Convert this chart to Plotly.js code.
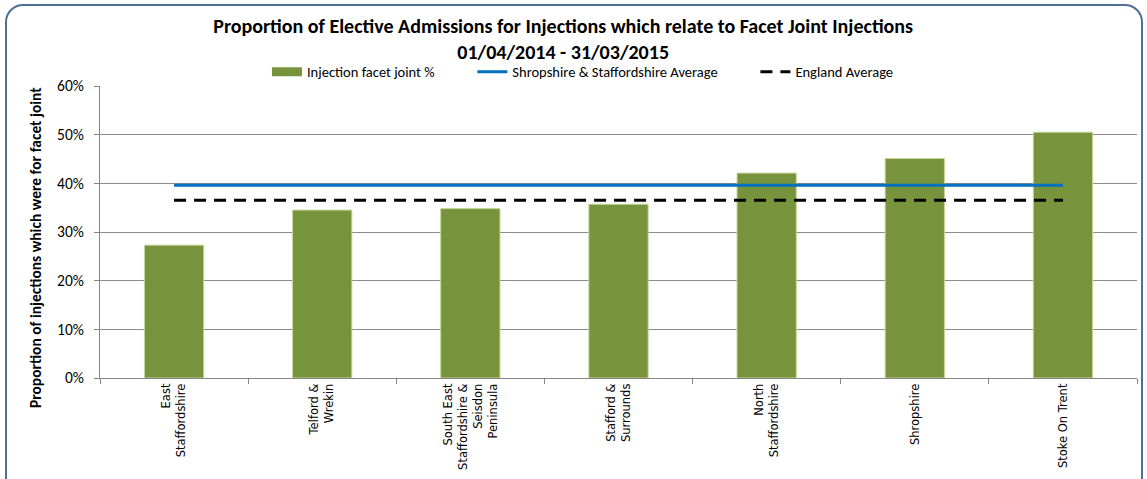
<!DOCTYPE html>
<html>
<head>
<meta charset="utf-8">
<script src="https://cdn.plot.ly/plotly-3.0.1.min.js"></script>
<style>
  html, body { margin: 0; padding: 0; width: 1147px; height: 479px; overflow: hidden; background: #fff; }
  #frame { position: absolute; left: 5px; top: 4px; width: 1134px; height: 490px; border: 2.5px solid #4f6f99; border-radius: 18px; pointer-events: none; z-index: 5; }
  #chart { position: absolute; left: 0; top: 0; width: 1147px; height: 479px; }
</style>
</head>
<body>
<div id="chart"></div>
<div id="frame"></div>
<script>
const categories = [
  "East<br>Staffordshire",
  "Telford &<br>Wrekin",
  "South East<br>Staffordshire &<br>Seisdon<br>Peninsula",
  "Stafford &<br>Surrounds",
  "North<br>Staffordshire",
  "Shropshire",
  "Stoke On Trent"
];
const facetJointPct = [0.273, 0.345, 0.348, 0.357, 0.421, 0.451, 0.505];
const shropStaffsAvg = [0.396, 0.396, 0.396, 0.396, 0.396, 0.396, 0.396];
const englandAvg = [0.365, 0.365, 0.365, 0.365, 0.365, 0.365, 0.365];
const yTickVals = [0, 0.1, 0.2, 0.3, 0.4, 0.5, 0.6];
const yTickText = ["0%", "10%", "20%", "30%", "40%", "50%", "60%"];
const seriesNames = ["Injection facet joint %", "Shropshire & Staffordshire Average", "England Average"];

const font = "Carlito, Calibri, 'Liberation Sans', Arial, sans-serif";
const NB = '\u00a0';

const traces = [
  {
    type: 'bar', name: seriesNames[0],
    x: categories, y: facetJointPct,
    width: 0.4, showlegend: false,
    marker: { color: '#77933c', line: { color: '#c3d69b', width: 1 } }
  },
  {
    // legend-only entry drawn as a wide green swatch (as in the reference legend)
    type: 'scatter', mode: 'lines', name: seriesNames[0] + NB.repeat(10),
    x: [categories[0]], y: [null],
    line: { color: '#77933c', width: 9 }, showlegend: true
  },
  {
    type: 'scatter', mode: 'lines', name: seriesNames[1] + NB.repeat(10),
    x: categories, y: shropStaffsAvg,
    line: { color: '#0070c0', width: 3 }
  },
  {
    type: 'scatter', mode: 'lines', name: seriesNames[2],
    x: categories, y: englandAvg,
    line: { color: '#000000', width: 3, dash: '12px,8px' }
  }
];

const layout = {
  width: 1147, height: 479,
  margin: { l: 100, r: 10, t: 86, b: 101 },
  paper_bgcolor: '#ffffff', plot_bgcolor: '#ffffff',
  font: { family: font, size: 13, color: '#000' },
  title: {
    text: '<b>Proportion of Elective Admissions for Injections which relate to Facet Joint Injections<br>01/04/2014 - 31/03/2015</b>',
    font: { family: font, size: 20, color: '#000' },
    x: 0.491, xanchor: 'center', xref: 'container',
    y: 0.931, yanchor: 'top', yref: 'container'
  },
  showlegend: true,
  legend: {
    orientation: 'h', x: 0.161, xanchor: 'left', y: 0.994, yanchor: 'bottom',
    font: { family: font, size: 14.5, color: '#000' },
    traceorder: 'normal', itemwidth: 30, bgcolor: 'rgba(0,0,0,0)'
  },
  xaxis: {
    type: 'category',
    tickangle: -90,
    tickfont: { family: "'DejaVu Sans', Verdana, sans-serif", size: 11.5, color: '#000' },
    showline: true, linecolor: '#868686', linewidth: 1,
    ticks: 'outside', ticklen: 5, tickcolor: '#868686', tickson: 'boundaries',
    showgrid: false, zeroline: false, automargin: false
  },
  yaxis: {
    range: [0, 0.6],
    tickvals: yTickVals, ticktext: yTickText,
    tickfont: { family: font, size: 15.5, color: '#000' },
    ticklabelstandoff: 7,
    showline: true, linecolor: '#868686', linewidth: 1,
    ticks: 'outside', ticklen: 5, tickcolor: '#868686',
    showgrid: true, gridcolor: '#8c8c8c', gridwidth: 1,
    zeroline: false, automargin: false
  },
  annotations: [{
    text: '<b>Proportion of injections which were for facet joint</b>',
    textangle: -90,
    xref: 'paper', yref: 'paper',
    x: -65 / 1037, y: 0.445, xanchor: 'center', yanchor: 'middle',
    showarrow: false,
    font: { family: font, size: 15.5, color: '#000' }
  }]
};

Plotly.newPlot('chart', traces, layout, { displayModeBar: false, staticPlot: true });
</script>
</body>
</html>
